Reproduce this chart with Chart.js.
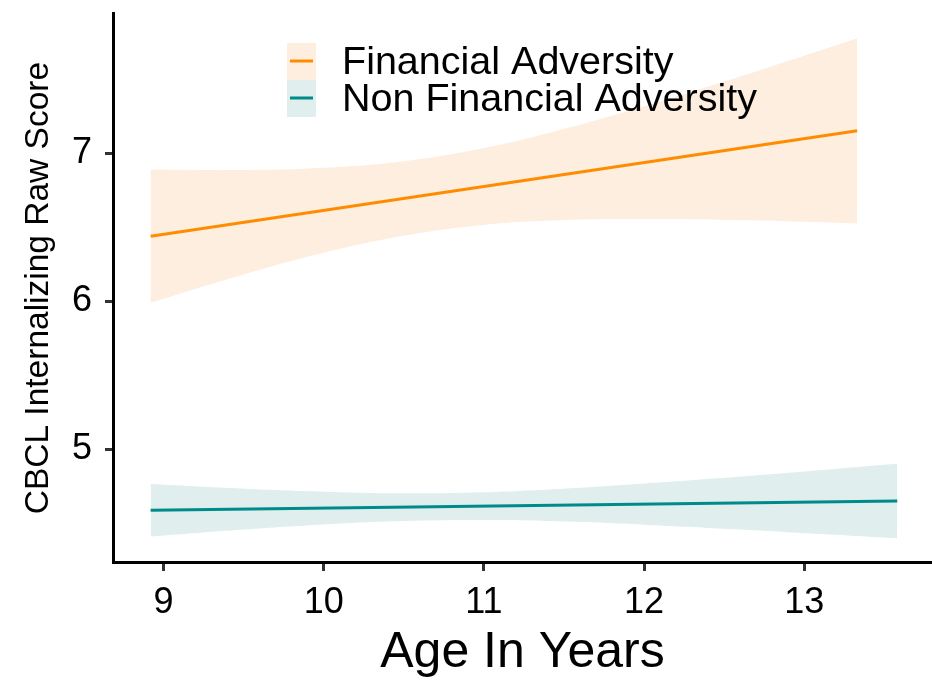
<!DOCTYPE html>
<html>
<head>
<meta charset="utf-8">
<script src="https://cdn.jsdelivr.net/npm/chart.js@4.4.1/dist/chart.umd.min.js"></script>
<style>
  html, body { margin: 0; padding: 0; background: #fff; }
  canvas { display: block; }
</style>
</head>
<body>
<canvas id="chart" width="932" height="684"></canvas>
<script>
// fitted lines (start / end of each group)
const finLineAge = [8.92, 13.33];
const finLineScore = [6.438, 7.150];
const nonLineAge = [8.92, 13.58];
const nonLineScore = [4.586, 4.649];

// confidence bands
const finBandAge = [8.92, 9.5, 10, 10.5, 11, 11.5, 12, 12.5, 13, 13.33];
const finUpper = [6.888, 6.885, 6.900, 6.945, 7.034, 7.163, 7.316, 7.484, 7.658, 7.775];
const finLower = [5.988, 6.179, 6.326, 6.441, 6.514, 6.547, 6.554, 6.548, 6.536, 6.525];

const nonBandAge = [8.92, 9.5, 10, 10.5, 11, 11.5, 12, 12.5, 13, 13.58];
const nonUpper = [4.763, 4.732, 4.712, 4.701, 4.708, 4.732, 4.767, 4.806, 4.849, 4.901];
const nonLower = [4.409, 4.456, 4.490, 4.513, 4.520, 4.510, 4.489, 4.462, 4.433, 4.397];

const xTicks = [9, 10, 11, 12, 13];
const yTicks = [5, 6, 7];
const groupNames = ['Financial Adversity', 'Non Financial Adversity'];

const ORANGE = '#FF8C00';
const TEAL = '#008B8B';
const ORANGE_BAND = '#FEEEE0';
const TEAL_BAND = '#E0EEEE';
const FONT = "'Liberation Sans', Arial, sans-serif";

const pts = (xs, ys) => xs.map((x, i) => ({ x: x, y: ys[i] }));

const band = (xs, ys, color, fill) => ({
  data: pts(xs, ys),
  borderWidth: 0,
  pointRadius: 0,
  backgroundColor: color,
  fill: fill,
  tension: 0.4,
  order: 10
});

// legend inside the panel, keys are a band swatch with the line on it
const insideLegend = {
  id: 'insideLegend',
  afterDraw(chart) {
    const ctx = chart.ctx;
    const rows = [
      { name: groupNames[0], line: ORANGE, bg: ORANGE_BAND },
      { name: groupNames[1], line: TEAL, bg: TEAL_BAND }
    ];
    ctx.save();
    rows.forEach((r, i) => {
      const top = 43 + i * 37;
      ctx.fillStyle = r.bg;
      ctx.fillRect(287, top, 29, 37);
      ctx.strokeStyle = r.line;
      ctx.lineWidth = 3;
      ctx.beginPath();
      ctx.moveTo(290, top + 18);
      ctx.lineTo(313, top + 18);
      ctx.stroke();
      ctx.fillStyle = '#000';
      ctx.font = '39.5px ' + FONT;
      ctx.textBaseline = 'alphabetic';
      ctx.textAlign = 'left';
      ctx.fillText(r.name, 342, top + 31);
    });
    ctx.restore();
  }
};

const config = {
  type: 'line',
  data: {
    datasets: [
      band(finBandAge, finUpper, ORANGE_BAND, '+1'),
      band(finBandAge, finLower, ORANGE_BAND, false),
      band(nonBandAge, nonUpper, TEAL_BAND, '+1'),
      band(nonBandAge, nonLower, TEAL_BAND, false),
      {
        label: groupNames[0],
        data: pts(finLineAge, finLineScore),
        borderColor: ORANGE,
        borderWidth: 3,
        pointRadius: 0,
        fill: false,
        order: 1
      },
      {
        label: groupNames[1],
        data: pts(nonLineAge, nonLineScore),
        borderColor: TEAL,
        borderWidth: 3,
        pointRadius: 0,
        fill: false,
        order: 1
      }
    ]
  },
  options: {
    responsive: false,
    animation: false,
    layout: { padding: { top: 12, right: 0, left: 0, bottom: 0 } },
    plugins: {
      legend: { display: false },
      tooltip: { enabled: false }
    },
    scales: {
      x: {
        type: 'linear',
        min: 8.685,
        max: 13.797,
        afterBuildTicks: s => { s.ticks = xTicks.map(v => ({ value: v })); },
        afterFit: s => { s.height = 121; },
        ticks: {
          font: { family: FONT, size: 36 },
          color: '#000',
          padding: 10,
          maxRotation: 0
        },
        grid: {
          drawOnChartArea: false,
          drawTicks: true,
          tickLength: 8,
          lineWidth: 3,
          tickWidth: 3,
          tickColor: '#333'
        },
        border: { color: '#000', width: 3 },
        title: {
          display: true,
          text: 'Age In Years',
          color: '#000',
          font: { family: FONT, size: 50 },
          padding: { top: 0, bottom: 1 }
        }
      },
      y: {
        type: 'linear',
        min: 4.23,
        max: 7.945,
        afterBuildTicks: s => { s.ticks = yTicks.map(v => ({ value: v })); },
        afterFit: s => { s.width = 113; },
        ticks: {
          // tiny line height so the labels add no padding above the axis
          font: { family: FONT, size: 36, lineHeight: 0.01 },
          color: '#000',
          padding: 13
        },
        grid: {
          drawOnChartArea: false,
          drawTicks: true,
          tickLength: 8,
          lineWidth: 3,
          tickWidth: 3,
          tickColor: '#333'
        },
        border: { color: '#000', width: 3 },
        title: {
          display: true,
          text: 'CBCL Internalizing Raw Score',
          color: '#000',
          font: { family: FONT, size: 33.5 },
          padding: { top: 19, bottom: 0 }
        }
      }
    }
  },
  plugins: [insideLegend]
};

const ctx = document.getElementById('chart').getContext('2d');
const myChart = new Chart(ctx, config);
</script>
</body>
</html>
